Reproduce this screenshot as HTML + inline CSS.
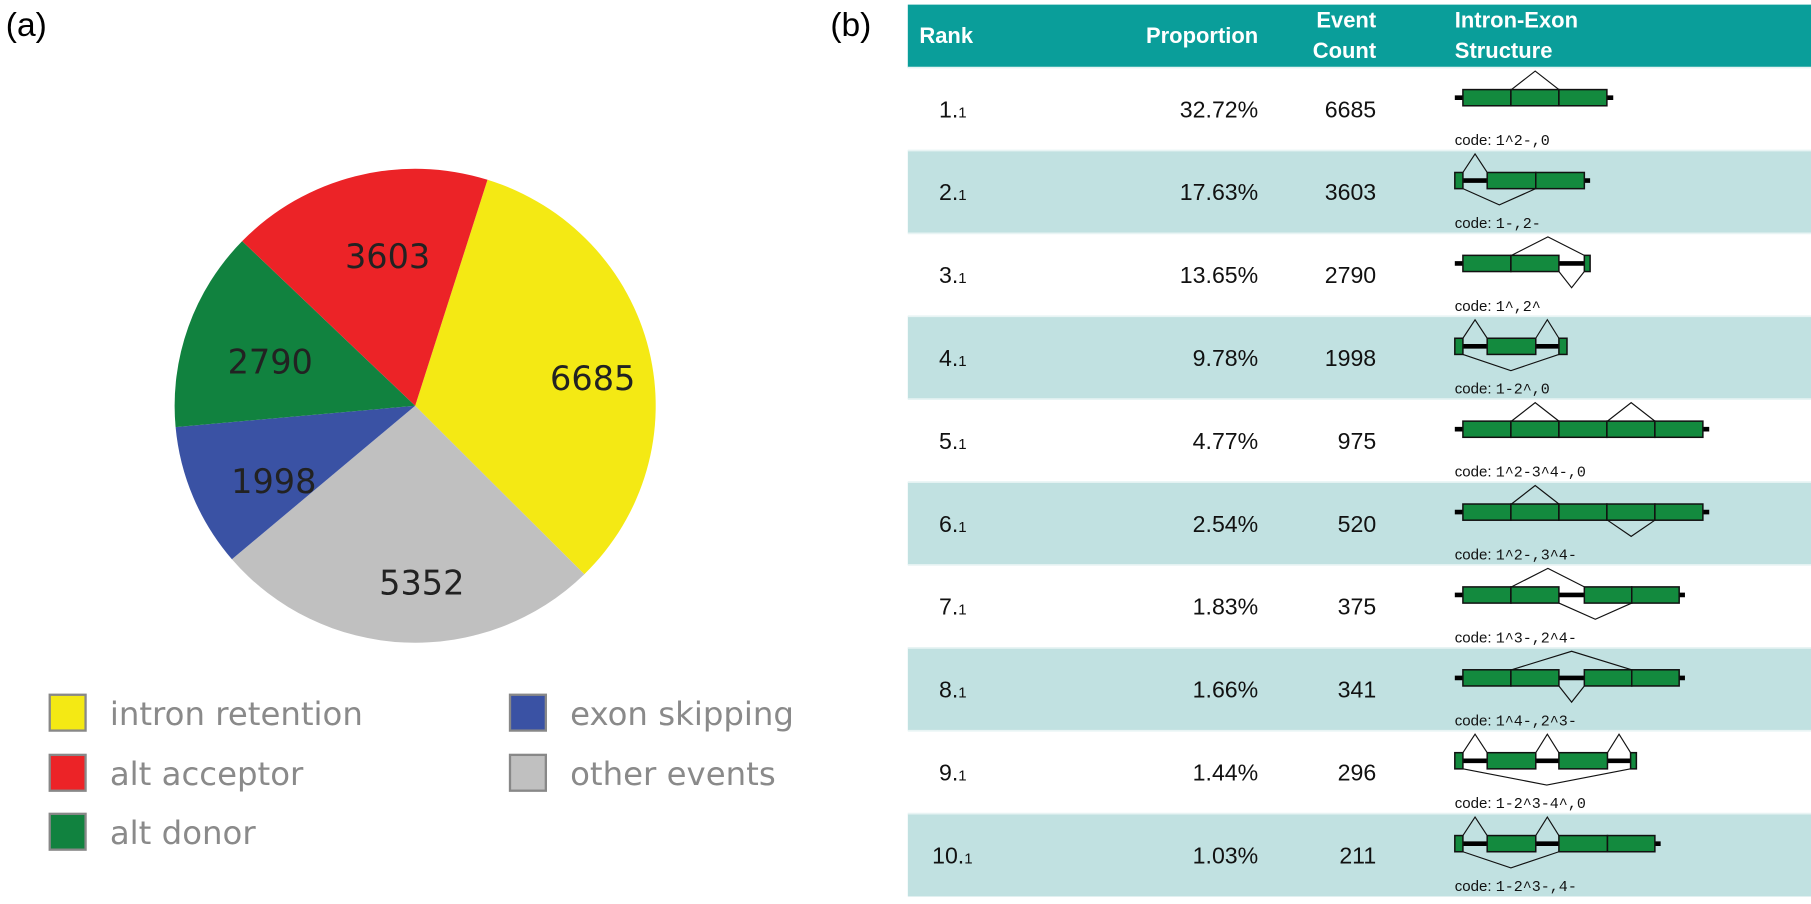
<!DOCTYPE html>
<html><head><meta charset="utf-8">
<style>
html,body{margin:0;padding:0;background:#fff;width:1811px;height:904px;overflow:hidden}
#wrap{position:absolute;left:0;top:0;width:1566px;height:782px;transform:scale(1.15645,1.1560);transform-origin:0 0;font-family:"Liberation Sans",sans-serif}
.abs{position:absolute}
</style></head><body>
<div id="wrap">
<div class="abs" style="left:5px;top:6px;font-size:29px">(a)</div>
<div class="abs" style="left:718px;top:6px;font-size:29px">(b)</div>
<svg id="pie" class="abs" style="left:0;top:0" width="760" height="782"></svg>
<svg id="tbl" class="abs" style="left:0;top:0" width="1566" height="782"></svg>
</div>
<script>
const pieLabels=["intron retention","other events","exon skipping","alt donor","alt acceptor"];
const pieCounts=[6685,5352,1998,2790,3603];
const pieColors=["#f4e914","#c0c0c0","#3a52a4","#11823f","#ec2327"];
const legendOrder=["intron retention","alt acceptor","alt donor","exon skipping","other events"];
const ranks=["1","2","3","4","5","6","7","8","9","10"];
const proportions=["32.72%","17.63%","13.65%","9.78%","4.77%","2.54%","1.83%","1.66%","1.44%","1.03%"];
const counts=["6685","3603","2790","1998","975","520","375","341","296","211"];
const codes=["1^2-,0","1-,2-","1^,2^","1-2^,0","1^2-3^4-,0","1^2-,3^4-","1^3-,2^4-","1^4-,2^3-","1-2^3-4^,0","1-2^3-,4-"];
const NS="http://www.w3.org/2000/svg";
function mk(parent,tag,attrs){const e=document.createElementNS(NS,tag);for(const k in attrs)e.setAttribute(k,attrs[k]);parent.appendChild(e);return e;}
// pie
const pie=document.getElementById('pie');
const cx=359,cy=351,rx=208,ry=205;
const total=pieCounts.reduce((a,b)=>a+b,0);
let ang=17.5;
function pt(a,f){const r=a*Math.PI/180;return [cx+rx*f*Math.sin(r),cy-ry*f*Math.cos(r)];}
pieCounts.forEach((v,i)=>{
  const sweep=v/total*360;const a0=ang,a1=ang+sweep;
  const p0=pt(a0,1),p1=pt(a1,1);
  const p=mk(pie,'path',{d:`M${cx},${cy}L${p0[0]},${p0[1]}A${rx},${ry} 0 ${sweep>180?1:0} 1 ${p1[0]},${p1[1]}Z`,fill:pieColors[i]});
  
  
  const lp=pt((a0+a1)/2,0.7);
  const t=mk(pie,'text',{x:lp[0]+12,y:lp[1]+20,'text-anchor':'middle','font-size':29,'font-family':'"DejaVu Sans",sans-serif',fill:'#222'});
  t.textContent=v;
  
  
  ang=a1;
});
const legPos=[[42,600],[42,652],[42,703],[440,600],[440,652]];
legendOrder.forEach((l,i)=>{
  const idx=pieLabels.indexOf(l);const [x,y]=legPos[i];
  const g=mk(pie,'g',{});
  
  
  mk(g,'rect',{x:x+1,y:y+1,width:31,height:31,fill:pieColors[idx],stroke:'#888','stroke-width':2});
  const t=mk(g,'text',{x:x+53,y:y+27,'font-size':28,'font-family':'"DejaVu Sans",sans-serif',fill:'#8a8a8a'});
  t.textContent=l;
});
// table
const tb=document.getElementById('tbl');
const T0=785,T1=1566,H0=4,H1=58.5,RH=71.7;
const hdr=mk(tb,'rect',{x:T0,y:H0,width:T1-T0,height:H1-H0,fill:'#0a9e9a'});


function txt(x,y,s,o){const t=mk(tb,'text',Object.assign({x:x,y:y,'font-family':'"Liberation Sans",sans-serif'},o||{}));t.textContent=s;return t;}
const hs={'font-size':19,'font-weight':'bold',fill:'#fff'};
txt(795,37,'Rank',hs);
txt(1088,37,'Proportion',Object.assign({'text-anchor':'end'},hs));
txt(1190,24,'Event',Object.assign({'text-anchor':'end'},hs));
txt(1190,50,'Count',Object.assign({'text-anchor':'end'},hs));
txt(1258,24,'Intron-Exon',hs);
txt(1258,50,'Structure',hs);
const E=41.5,X0=1265;
function bx(k){return [X0+E*k,X0+E*(k+1)];}
const diagrams=[
 {line:[1258,1395],boxes:[bx(0),bx(1),bx(2)],up:[[1307,1348]],dn:[]},
 {line:[1258,1375],boxes:[[1258,1265],[1286,1328],[1328,1370]],up:[[1265,1286]],dn:[[1265,1328]]},
 {line:[1258,1375],boxes:[bx(0),bx(1),[1370,1375]],up:[[1307,1370]],dn:[[1348,1370]]},
 {line:[1258,1355],boxes:[[1258,1265],[1286,1328],[1348,1355]],up:[[1265,1286],[1328,1348]],dn:[[1265,1348]]},
 {line:[1258,1478],boxes:[bx(0),bx(1),bx(2),bx(3),bx(4)],up:[[1307,1348],[1390,1431]],dn:[]},
 {line:[1258,1478],boxes:[bx(0),bx(1),bx(2),bx(3),bx(4)],up:[[1307,1348]],dn:[[1390,1431]]},
 {line:[1258,1457],boxes:[bx(0),bx(1),[1370,1411],[1411,1452]],up:[[1307,1370]],dn:[[1348,1411]]},
 {line:[1258,1457],boxes:[bx(0),bx(1),[1370,1411],[1411,1452]],up:[[1307,1411]],dn:[[1348,1370]]},
 {line:[1258,1415],boxes:[[1258,1265],[1286,1328],[1348,1390],[1410,1415]],up:[[1265,1286],[1328,1348],[1390,1410]],dn:[[1265,1410]]},
 {line:[1258,1436],boxes:[[1258,1265],[1286,1328],[1348,1390],[1390,1431]],up:[[1265,1286],[1328,1348]],dn:[[1265,1348]]}
];
ranks.forEach((r,i)=>{
  const y=H1+RH*i;
  const g=mk(tb,'g',{});
  
  
  mk(g,'rect',{x:T0,y:y,width:T1-T0,height:RH,fill:i%2?'#c1e1e1':'#fff'});
  mk(g,'line',{x1:T0,x2:T1,y1:y,y2:y,stroke:'#e8f4f4','stroke-width':1.5});
  const rt=mk(g,'text',{x:r.length>1?806:812,y:y+43,'font-size':20,'font-family':'"Liberation Sans",sans-serif',fill:'#111'});
  rt.textContent=r+'.';
  const sub=mk(rt,'tspan',{'font-size':13});sub.textContent='1';
  const pt2=mk(g,'text',{x:1088,y:y+43,'text-anchor':'end','font-size':20,'font-family':'"Liberation Sans",sans-serif',fill:'#111'});pt2.textContent=proportions[i];
  const ct=mk(g,'text',{x:1190,y:y+43,'text-anchor':'end','font-size':20,'font-family':'"Liberation Sans",sans-serif',fill:'#111'});ct.textContent=counts[i];
  const d=diagrams[i];const by=y+19,bh=14,mid=by+bh/2;
  mk(g,'line',{x1:d.line[0],x2:d.line[1],y1:mid,y2:mid,stroke:'#000','stroke-width':4});
  d.up.forEach(u=>mk(g,'polyline',{points:`${u[0]},${by} ${(u[0]+u[1])/2},${y+3} ${u[1]},${by}`,fill:'none',stroke:'#111','stroke-width':1}));
  d.dn.forEach(u=>mk(g,'polyline',{points:`${u[0]},${by+bh} ${(u[0]+u[1])/2},${y+47} ${u[1]},${by+bh}`,fill:'none',stroke:'#111','stroke-width':1}));
  d.boxes.forEach(b=>mk(g,'rect',{x:b[0],y:by,width:b[1]-b[0],height:bh,fill:'#138a3e',stroke:'#111','stroke-width':1.3}));
  const cd=mk(g,'text',{x:1258,y:y+67,'font-size':13,'font-family':'"Liberation Sans",sans-serif',fill:'#111'});
  cd.textContent='code: ';
  const cs=mk(cd,'tspan',{'font-family':'"Liberation Mono",monospace'});cs.textContent=codes[i];
});
</script>
</body></html>
